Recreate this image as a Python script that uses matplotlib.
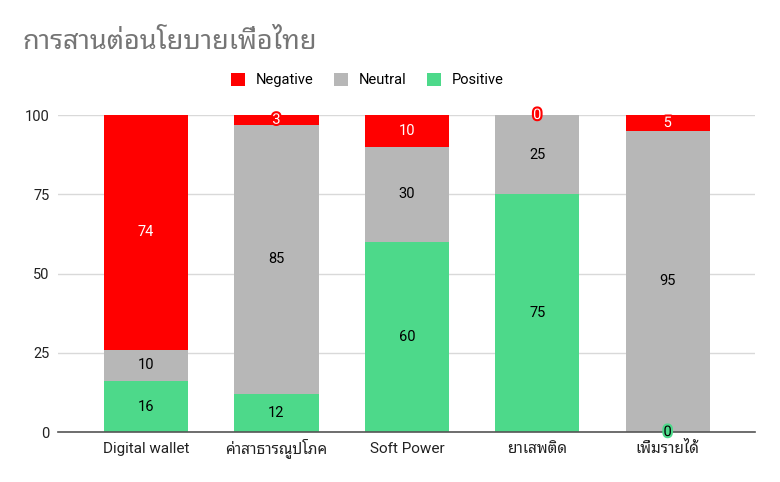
import matplotlib
matplotlib.use('Agg')
import matplotlib.pyplot as plt
import matplotlib.patheffects as pe

categories = ['Digital wallet', 'ค่าสาธารณูปโภค', 'Soft Power', 'ยาเสพติด', 'เพิ่มรายได้']
positive = [16, 12, 60, 75, 0]
neutral = [10, 85, 30, 25, 95]
negative = [74, 3, 10, 0, 5]

plt.rcParams['font.family'] = ['Roboto', 'Noto Sans Thai Looped', 'DejaVu Sans']

fig = plt.figure(figsize=(7.8, 4.82), dpi=100)
ax = fig.add_axes([0.0744, 0.1037, 0.8936, 0.6577])

x = range(len(categories))
w = 0.645
ax.bar(x, positive, w, color='#4dd98a', label='Positive', zorder=2)
ax.bar(x, neutral, w, bottom=positive, color='#b7b7b7', label='Neutral', zorder=2)
bottoms = [p + n for p, n in zip(positive, neutral)]
ax.bar(x, negative, w, bottom=bottoms, color='#ff0000', label='Negative', zorder=2)

# value labels, small segments get a halo in the segment colour
for i in x:
    segs = [(positive[i], 0, '#4dd98a', 'black'),
            (neutral[i], positive[i], '#b7b7b7', 'black'),
            (negative[i], bottoms[i], '#ff0000', 'white')]
    for val, base, col, tc in segs:
        y = base + val / 2
        t = ax.text(i, y, str(val), ha='center', va='center', fontsize=10.5, color=tc, zorder=4)
        if val < 6:
            t.set_path_effects([pe.withStroke(linewidth=3, foreground=col)])

ax.set_xlim(-0.675, 4.67)
ax.set_ylim(0, 100)
ax.set_yticks([0, 25, 50, 75, 100])
ax.set_xticks(list(x))
ax.set_xticklabels(categories)
ax.tick_params(length=0, labelsize=10.5, colors='#222222')
ax.tick_params(axis='x', labelsize=11, pad=15)
ax.tick_params(axis='y', pad=6)
# same baseline for thai and latin labels
for lab in ax.get_xticklabels():
    lab.set_va('baseline')
ax.grid(axis='y', color='#d9d9d9', linewidth=1, zorder=0)
for s in ['top', 'right', 'left']:
    ax.spines[s].set_visible(False)
ax.spines['bottom'].set_color('#555555')
ax.spines['bottom'].set_linewidth(1.2)
ax.spines['bottom'].set_zorder(3)

h, l = ax.get_legend_handles_labels()
fig.legend(h[::-1], l[::-1], loc='center left', bbox_to_anchor=(0.296, 0.834), ncol=3, frameon=False,
           fontsize=10.5, handlelength=1.0, handleheight=1.0, columnspacing=1.4, handletextpad=0.7,
           borderpad=0, borderaxespad=0)

fig.text(0.029, 0.912, 'การสานต่อนโยบายเพื่อไทย', fontsize=19.5, color='#757575', va='center',
         family=['Noto Sans Thai Looped', 'DejaVu Sans'])

fig.savefig('out.png', dpi=100)
